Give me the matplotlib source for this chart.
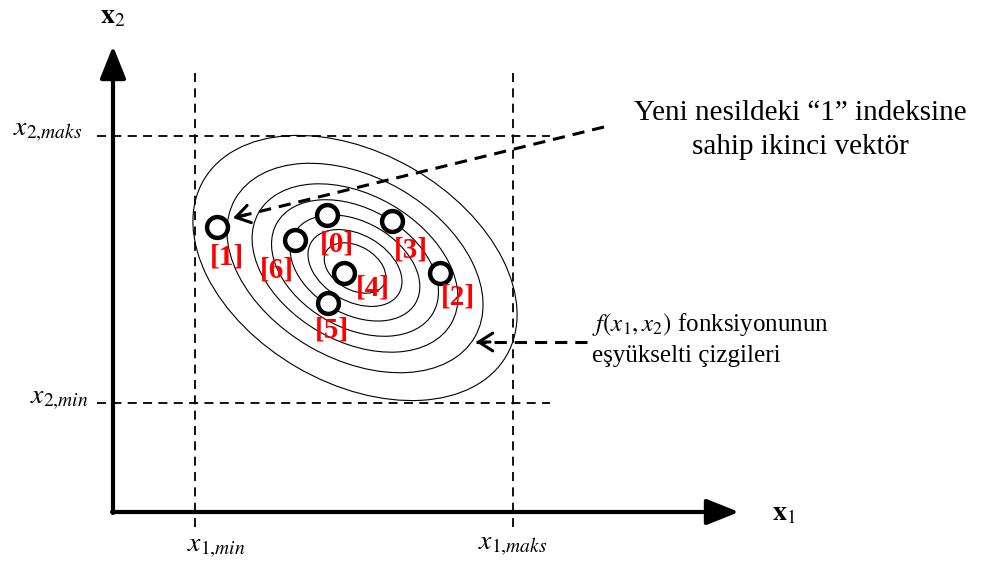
import matplotlib
matplotlib.use('Agg')
import matplotlib.pyplot as plt
from matplotlib.patches import Ellipse

plt.rcParams['font.family'] = ['Liberation Serif', 'DejaVu Serif']
plt.rcParams['mathtext.fontset'] = 'stix'

# search box limits (canvas units, y grows downward)
x1_min, x1_max = 195, 513
x2_max, x2_min = 136, 403

# contour ellipses of f(x1, x2)
f_center = (355, 268)
f_axes = (350, 230)
f_angle = 30
contour_scales = [0.19, 0.29, 0.4, 0.515, 0.635, 0.79, 1.0]

# population vectors and their indices
vec_labels = ['[0]', '[1]', '[2]', '[3]', '[4]', '[5]', '[6]']
vec_x = [327, 217, 440, 392, 344, 328, 295]
vec_y = [215, 227, 273, 221, 273, 303, 240]
lab_x = [337, 227, 458, 411, 373, 332, 277]
lab_y = [244, 257, 297, 250, 288, 330, 270]

fig = plt.figure(figsize=(9.88, 5.67), dpi=100)
ax = fig.add_axes([0, 0, 1, 1])
ax.set_xlim(0, 988)
ax.set_ylim(567, 0)
ax.axis('off')

# main axes with arrow heads
head = '-|>,head_length=0.55,head_width=0.22'
ax.annotate('', xy=(113, 46), xytext=(113, 513),
            arrowprops=dict(arrowstyle=head, mutation_scale=36, lw=3,
                            color='black', shrinkA=0, shrinkB=0))
ax.annotate('', xy=(739, 512), xytext=(112, 512),
            arrowprops=dict(arrowstyle=head, mutation_scale=36, lw=3,
                            color='black', shrinkA=0, shrinkB=0))
ax.text(113, 17, r'$\mathbf{x}_2$', fontsize=20, ha='center', va='center')
ax.text(784, 514, r'$\mathbf{x}_1$', fontsize=20, ha='center', va='center')

# dashed bounds
dash = dict(color='black', lw=1.3, dashes=(5, 3.5))
ax.plot([x1_min, x1_min], [73, 530], **dash)
ax.plot([x1_max, x1_max], [73, 527], **dash)
ax.plot([97, 550], [x2_max, x2_max], **dash)
ax.plot([97, 550], [x2_min, x2_min], **dash)

ax.text(82, 132, r'$x_{2{,}maks}$', fontsize=20, ha='right', va='center')
ax.text(88, 400, r'$x_{2{,}min}$', fontsize=20, ha='right', va='center')
ax.text(216, 547, r'$x_{1{,}min}$', fontsize=20, ha='center', va='center')
ax.text(513, 545, r'$x_{1{,}maks}$', fontsize=20, ha='center', va='center')

# iso-lines
for s in contour_scales:
    ax.add_patch(Ellipse(f_center, f_axes[0] * s, f_axes[1] * s, angle=f_angle,
                         fill=False, ec='black', lw=0.8))

# vectors
ax.plot(vec_x, vec_y, 'o', ms=15, mfc='white', mec='black', mew=3.2, zorder=5)
for lbl, tx, ty in zip(vec_labels, lab_x, lab_y):
    ax.text(tx, ty, lbl, color='red', fontsize=21, fontweight='bold',
            ha='center', va='center', zorder=6)


def dashed_arrow(start, tip):
    """dashed line with an open arrow head at tip"""
    ax.plot([start[0], tip[0]], [start[1], tip[1]], color='black', lw=2.2,
            dashes=(4, 2.6), zorder=4)
    dx, dy = start[0] - tip[0], start[1] - tip[1]
    n = (dx ** 2 + dy ** 2) ** 0.5
    back = (tip[0] + dx / n * 14, tip[1] + dy / n * 14)
    ax.annotate('', xy=tip, xytext=back,
                arrowprops=dict(arrowstyle='->,head_length=0.5,head_width=0.32',
                                mutation_scale=20, lw=2.2, color='black',
                                shrinkA=0, shrinkB=0), zorder=4)


dashed_arrow((604, 127), (233, 218))
dashed_arrow((587, 342), (476, 342))

ax.text(800, 130, 'Yeni nesildeki \u201c1\u201d indeksine\nsahip ikinci vektör',
        fontsize=21, ha='center', va='center', linespacing=1.35)
ax.text(592, 325, r'$f(x_1, x_2)$ fonksiyonunun', fontsize=18, ha='left', va='center')
ax.text(592, 356, 'eşyükselti çizgileri', fontsize=18, ha='left', va='center')

fig.savefig('out.png', dpi=100)
